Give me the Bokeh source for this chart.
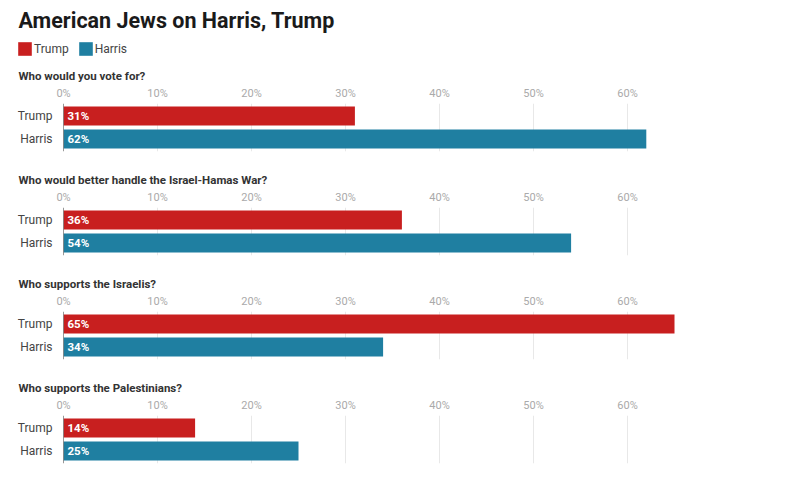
from bokeh.plotting import figure
from bokeh.models import (FactorRange, Range1d, Legend, LegendItem, Span,
                          ColumnDataSource, FixedTicker, PrintfTickFormatter)
from bokeh.layouts import column
from bokeh.embed import file_html
from bokeh.resources import INLINE
from bokeh.core.properties import value

# ---- data ----
chart_title = "American Jews on Harris, Trump"
candidates = ["Trump", "Harris"]
questions = [
    "Who would you vote for?",
    "Who would better handle the Israel-Hamas War?",
    "Who supports the Israelis?",
    "Who supports the Palestinians?",
]
trump_pct = [31, 36, 65, 14]
harris_pct = [62, 54, 34, 25]
tick_values = [0, 10, 20, 30, 40, 50, 60]
candidate_colors = ["#c81f1f", "#1f7fa1"]

FONT = "Roboto"
W = 800
LEFT = 63
RIGHT = 79
X_MAX = 70

# ---- header: title + legend ----
header = figure(width=W, height=64, x_range=FactorRange(factors=candidates),
                y_range=(0, 1), output_backend="svg", toolbar_location=None,
                x_axis_location=None, y_axis_location=None,
                min_border_left=0, min_border_right=0,
                min_border_top=0, min_border_bottom=0, outline_line_color=None)
try:
    header.frame_align = False
except Exception:
    pass
header.grid.visible = False
header.title.text = chart_title
header.title.text_font = FONT
header.title.text_font_size = "21.5px"
header.title.text_font_style = "bold"
header.title.text_color = "#1a1a1a"
header.title.offset = 18

hsrc = ColumnDataSource(dict(cand=candidates, zero=[0, 0], color=candidate_colors))
hr = header.vbar(x="cand", top="zero", width=0.5, fill_color="color",
                 line_color=None, source=hsrc)
items = [LegendItem(label=name, renderers=[hr], index=k)
         for k, name in enumerate(candidates)]
legend = Legend(items=items, orientation="horizontal", location=(16, 7),
                label_text_font=FONT, label_text_font_size="12px",
                label_text_color="#444444", glyph_width=17, glyph_height=17,
                label_standoff=1, spacing=8, padding=0, margin=0,
                label_height=15, border_line_color=None,
                background_fill_alpha=0)
header.add_layout(legend, "center")

# ---- panels ----
panels = []
for i, q in enumerate(questions):
    last = i == len(questions) - 1
    h = 113 if last else 104
    p = figure(width=W, height=h,
               y_range=FactorRange(factors=candidates[::-1], range_padding=0.043,
                                   range_padding_units="absolute"),
               x_range=Range1d(0, X_MAX), x_axis_location="above",
               output_backend="svg", toolbar_location=None,
               min_border_left=LEFT, min_border_right=RIGHT,
               min_border_top=39, min_border_bottom=h - 87,
               outline_line_color=None)
    p.title.text = q
    p.title.text_font = FONT
    p.title.text_font_size = "11.5px"
    p.title.text_font_style = "bold"
    p.title.text_color = "#333333"
    p.title.offset = 18 - LEFT
    p.title.standoff = 2

    vals = [trump_pct[i], harris_pct[i]]
    src = ColumnDataSource(dict(cand=candidates, pct=vals,
                                label=[f"{v}%" for v in vals],
                                color=candidate_colors))
    p.hbar(y="cand", left=0, right="pct", height=19 / 23, fill_color="color",
           line_color=None, source=src)
    p.text(x=0, y="cand", text="label", x_offset=4, text_baseline="middle",
           text_align="left", text_color="white", text_font=value(FONT),
           text_font_size="11.5px", text_font_style="bold", source=src)
    p.add_layout(Span(location=0, dimension="height", line_color="#333333",
                      line_width=1))

    p.xaxis.ticker = FixedTicker(ticks=tick_values)
    p.xaxis.formatter = PrintfTickFormatter(format="%d%%")
    p.xaxis.axis_line_color = None
    p.xaxis.major_tick_line_color = None
    p.xaxis.minor_tick_line_color = None
    p.xaxis.major_tick_out = 0
    p.xaxis.major_label_text_color = "#aaaaaa"
    p.xaxis.major_label_text_font = FONT
    p.xaxis.major_label_text_font_size = "11px"
    p.xaxis.major_label_standoff = 4

    p.yaxis.axis_line_color = None
    p.yaxis.major_tick_line_color = None
    p.yaxis.minor_tick_line_color = None
    p.yaxis.major_tick_out = 0
    p.yaxis.major_label_text_color = "#444444"
    p.yaxis.major_label_text_font = FONT
    p.yaxis.major_label_text_font_size = "12px"
    p.yaxis.major_label_standoff = 11

    p.xgrid.ticker = FixedTicker(ticks=tick_values)
    p.xgrid.grid_line_color = "#e8e8e8"
    p.ygrid.grid_line_color = None
    panels.append(p)

layout = column(column(header), column(*panels, spacing=0), spacing=0)
open("out.html", "w").write(file_html(layout, INLINE))
